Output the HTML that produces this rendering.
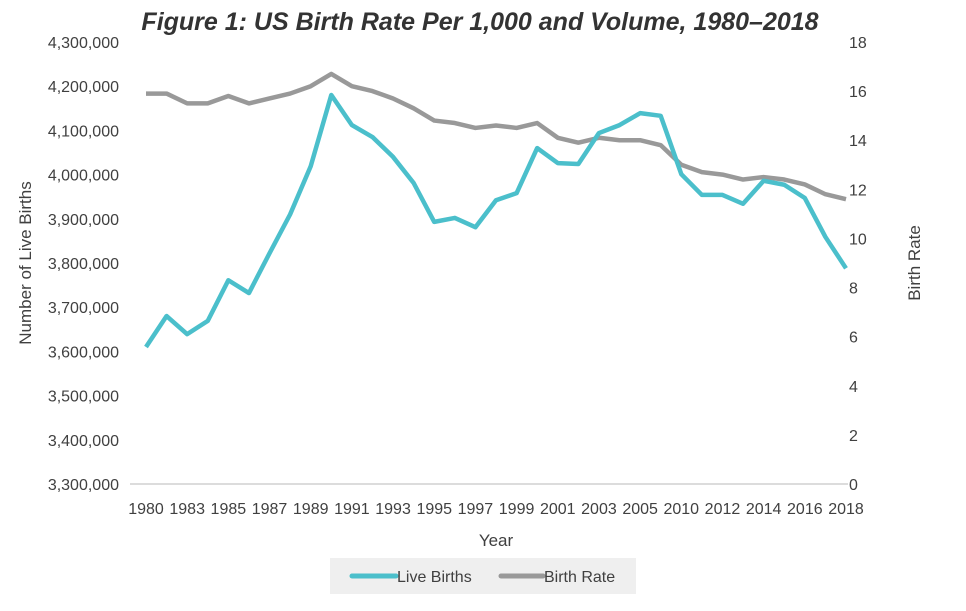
<!DOCTYPE html>
<html><head><meta charset="utf-8"><style>
body{margin:0;background:#fff;}
svg text{font-family:"Liberation Sans Narrow","Liberation Sans",sans-serif;fill:#404040;}
</style></head><body>
<svg id="chart" width="966" height="606" xmlns="http://www.w3.org/2000/svg">
<rect width="966" height="606" fill="#fff"/>
<text x="480" y="30" text-anchor="middle" font-size="25" font-weight="bold" font-style="italic" style="fill:#333">Figure 1: US Birth Rate Per 1,000 and Volume, 1980–2018</text>
<line x1="130" y1="484" x2="848" y2="484" stroke="#d0d0d0" stroke-width="1.5"/>
<g id="lt"></g><g id="rt"></g><g id="xt"></g>
<text transform="translate(31,263) rotate(-90)" text-anchor="middle" font-size="17">Number of Live Births</text>
<text transform="translate(920,263) rotate(-90)" text-anchor="middle" font-size="17">Birth Rate</text>
<text x="496" y="546" text-anchor="middle" font-size="17">Year</text>
<g id="series"></g>
<g>
<rect x="330" y="558" width="306" height="36" fill="#efefef"/>
<line x1="352" y1="576" x2="396" y2="576" stroke="#4bbfcb" stroke-width="5" stroke-linecap="round"/>
<text x="397" y="582" font-size="16">Live Births</text>
<line x1="501" y1="576" x2="543" y2="576" stroke="#999" stroke-width="5" stroke-linecap="round"/>
<text x="544" y="582" font-size="16">Birth Rate</text>
</g>
</svg>
<script>
const years=[1980,1981,1983,1984,1985,1986,1987,1988,1989,1990,1991,1992,1993,1994,1995,1996,1997,1998,1999,2000,2001,2002,2003,2004,2005,2006,2010,2011,2012,2013,2014,2015,2016,2017,2018];
const liveBirths=[3610000,3680000,3639000,3669000,3761000,3732000,3822000,3910000,4019000,4180000,4112000,4085000,4040000,3981000,3893000,3902000,3881000,3942000,3958000,4060000,4026000,4024000,4094000,4112000,4139000,4133000,4001000,3954000,3954000,3934000,3986000,3977000,3947000,3859000,3788000];
const birthRate=[15.9,15.9,15.5,15.5,15.8,15.5,15.7,15.9,16.2,16.7,16.2,16.0,15.7,15.3,14.8,14.7,14.5,14.6,14.5,14.7,14.1,13.9,14.1,14.0,14.0,13.8,13.0,12.7,12.6,12.4,12.5,12.4,12.2,11.8,11.6];
const leftTicks=[3300000,3400000,3500000,3600000,3700000,3800000,3900000,4000000,4100000,4200000,4300000];
const rightTicks=[0,2,4,6,8,10,12,14,16,18];
const NS="http://www.w3.org/2000/svg";
const X0=146,X1=846,Y0=484,Y1=42;
const xs=i=>X0+(X1-X0)*i/(years.length-1);
const yl=v=>Y0-(v-3300000)/1000000*(Y0-Y1);
const yr=v=>Y0-v/18*(Y0-Y1);
function mk(tag,attrs,parent){const e=document.createElementNS(NS,tag);for(const k in attrs)e.setAttribute(k,attrs[k]);parent.appendChild(e);return e;}
const lt=document.getElementById('lt'),rt=document.getElementById('rt'),xt=document.getElementById('xt'),sg=document.getElementById('series');
leftTicks.forEach(v=>{const t=mk('text',{x:119,y:yl(v)+6,'text-anchor':'end','font-size':16},lt);t.textContent=v.toLocaleString('en-US');

});
rightTicks.forEach(v=>{const t=mk('text',{x:849,y:yr(v)+6,'font-size':16},rt);t.textContent=v;

});
years.forEach((y,i)=>{if(i%2)return;const t=mk('text',{x:xs(i),y:514,'text-anchor':'middle','font-size':16},xt);t.textContent=y;

});
const p1=mk('polyline',{points:birthRate.map((v,i)=>xs(i)+','+yr(v)).join(' '),fill:'none',stroke:'#999',"stroke-width":4.5,"stroke-linejoin":'round'},sg);


const p2=mk('polyline',{points:liveBirths.map((v,i)=>xs(i)+','+yl(v)).join(' '),fill:'none',stroke:'#4bbfcb',"stroke-width":4.5,"stroke-linejoin":'round'},sg);


</script>
</body></html>
